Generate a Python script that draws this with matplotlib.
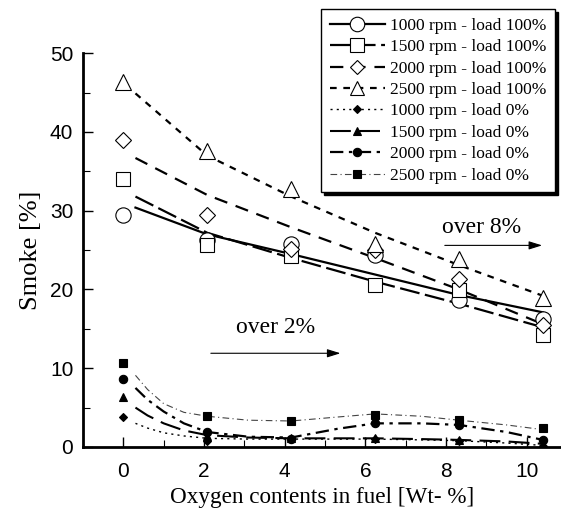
import matplotlib
matplotlib.use("Agg")
import matplotlib.pyplot as plt
from matplotlib.lines import Line2D

SERIF = ["Liberation Serif", "DejaVu Serif"]
SANS = ["Liberation Sans", "DejaVu Sans"]

# measured points (oxygen wt-%, smoke %)
oxy = [0, 2.08, 4.16, 6.24, 8.32, 10.4]
full_1000 = [29.4, 26.3, 25.8, 24.4, 18.7, 16.3]
full_1500 = [34.0, 25.6, 24.2, 20.6, 19.9, 14.2]
full_2000 = [39.0, 29.4, 25.2, 25.0, 21.3, 15.5]
full_2500 = [46.4, 37.6, 32.8, 25.8, 23.9, 18.9]
zero_1000 = [3.8, 0.8, 1.0, 1.0, 0.8, 0.1]
zero_1500 = [6.3, 1.4, 1.1, 1.1, 0.9, 0.3]
zero_2000 = [8.6, 1.9, 1.0, 3.0, 2.8, 0.9]
zero_2500 = [10.7, 3.9, 3.3, 4.1, 3.4, 2.4]

# fitted trend curves
fit_x = [0.3, 2.08, 4.16, 6.24, 8.32, 10.4]
fit_1000 = [30.4, 27.0, 24.5, 21.9, 19.3, 17.1]
fit_1500 = [31.8, 27.2, 24.0, 21.0, 18.2, 15.2]
fit_2000 = [36.7, 32.0, 27.9, 24.0, 20.0, 15.6]
fit_2500 = [44.9, 37.0, 31.8, 27.2, 23.1, 19.2]

fit0_x = [0.3, 0.6, 1.0, 1.5, 2.08, 3.1, 4.16, 5.3, 6.24, 7.4, 8.32, 9.5, 10.4]
fit0_1000 = [3.0, 2.4, 1.8, 1.4, 1.1, 1.0, 1.0, 1.0, 1.0, 0.9, 0.8, 0.5, 0.2]
fit0_1500 = [5.0, 4.0, 3.0, 2.1, 1.5, 1.2, 1.1, 1.1, 1.1, 1.0, 0.9, 0.7, 0.4]
fit0_2000 = [7.5, 6.0, 4.5, 3.0, 1.9, 1.3, 1.2, 2.3, 3.0, 3.0, 2.8, 1.9, 0.9]
fit0_2500 = [9.1, 7.3, 5.5, 4.4, 3.9, 3.4, 3.3, 3.8, 4.2, 3.9, 3.4, 2.8, 2.2]

labels = ["1000 rpm - load 100%", "1500 rpm - load 100%", "2000 rpm - load 100%",
          "2500 rpm - load 100%", "1000 rpm - load 0%", "1500 rpm - load 0%",
          "2000 rpm - load 0%", "2500 rpm - load 0%"]

fig = plt.figure(figsize=(5.61, 5.12), dpi=100)
ax = fig.add_axes([0.148, 0.127, 0.852, 0.769])

# (points, fit x, fit y, marker, msize, filled, linestyle, lw, line colour)
series = [
    (full_1000, fit_x, fit_1000, "o", 11, False, "-", 1.6, "black"),
    (full_1500, fit_x, fit_1500, "s", 10, False, (0, (9, 2.5)), 1.6, "black"),
    (full_2000, fit_x, fit_2000, "D", 8, False, (0, (6, 4)), 1.6, "black"),
    (full_2500, fit_x, fit_2500, "^", 11, False, (0, (3, 3)), 1.6, "black"),
    (zero_1000, fit0_x, fit0_1000, "D", 4.5, True, (0, (1.5, 3)), 1.0, "black"),
    (zero_1500, fit0_x, fit0_1500, "^", 6, True, (0, (10, 4)), 1.5, "black"),
    (zero_2000, fit0_x, fit0_2000, "o", 6, True, (0, (6, 2.5, 1.5, 2.5)), 1.6, "black"),
    (zero_2500, fit0_x, fit0_2500, "s", 6, True, (0, (6, 3, 1, 3)), 0.8, "#444444"),
]

handles = []
for (pts, fx, fy, mk, ms, filled, ls, lw, lc), lab in zip(series, labels):
    ax.plot(fx, fy, linestyle=ls, color=lc, lw=lw, zorder=2)
    ax.plot(oxy, pts, linestyle="none", marker=mk, ms=ms,
            mfc="black" if filled else "white", mec="black", mew=0.8, zorder=3)
    handles.append(Line2D([], [], linestyle=ls, color=lc, lw=lw, marker=mk,
                          ms=ms if filled else ms * 0.95,
                          mfc="black" if filled else "white", mec="black", mew=0.8))

ax.set_xlim(-1, 10.85)
ax.set_ylim(0, 50)
ax.set_xticks([0, 2, 4, 6, 8, 10])
ax.set_xticks([1, 3, 5, 7, 9], minor=True)
ax.set_yticks([0, 10, 20, 30, 40, 50])
ax.set_yticks([5, 15, 25, 35, 45], minor=True)
ax.tick_params(which="major", direction="in", length=7, width=1, labelsize=15)
ax.tick_params(axis="x", which="major", pad=11)
ax.tick_params(axis="y", which="major", pad=7)
ax.tick_params(which="minor", direction="in", length=5, width=0.8)
for t in ax.get_xticklabels() + ax.get_yticklabels():
    t.set_family(SANS)
for s in ("top", "right"):
    ax.spines[s].set_visible(False)
for s in ("left", "bottom"):
    ax.spines[s].set_linewidth(2)

ax.set_xlabel("Oxygen contents in fuel [Wt- %]", family=SERIF, fontsize=16.7, labelpad=4)
ax.set_ylabel("Smoke [%]", family=SERIF, fontsize=19, labelpad=6)

ax.text(2.8, 15.2, "over 2%", family=SERIF, fontsize=17, va="center")
ax.annotate("", xy=(5.45, 11.9), xytext=(2.1, 11.9),
            arrowprops=dict(arrowstyle="-|>,head_length=0.8,head_width=0.25", color="black", lw=0.8))
ax.text(7.9, 27.9, "over 8%", family=SERIF, fontsize=17, va="center")
ax.annotate("", xy=(10.45, 25.6), xytext=(7.9, 25.6),
            arrowprops=dict(arrowstyle="-|>,head_length=0.8,head_width=0.25", color="black", lw=0.8))

leg = fig.legend(handles, labels, loc="upper left", bbox_to_anchor=(0.572, 0.982),
                 prop={"family": SERIF, "size": 12.5}, frameon=True, fancybox=False,
                 shadow={"color": "black", "alpha": 1}, edgecolor="black",
                 handlelength=3.2, labelspacing=0.3, borderpad=0.5, handletextpad=0.3,
                 borderaxespad=0)
leg.get_frame().set_linewidth(1.0)

fig.savefig("out.png", dpi=100)
